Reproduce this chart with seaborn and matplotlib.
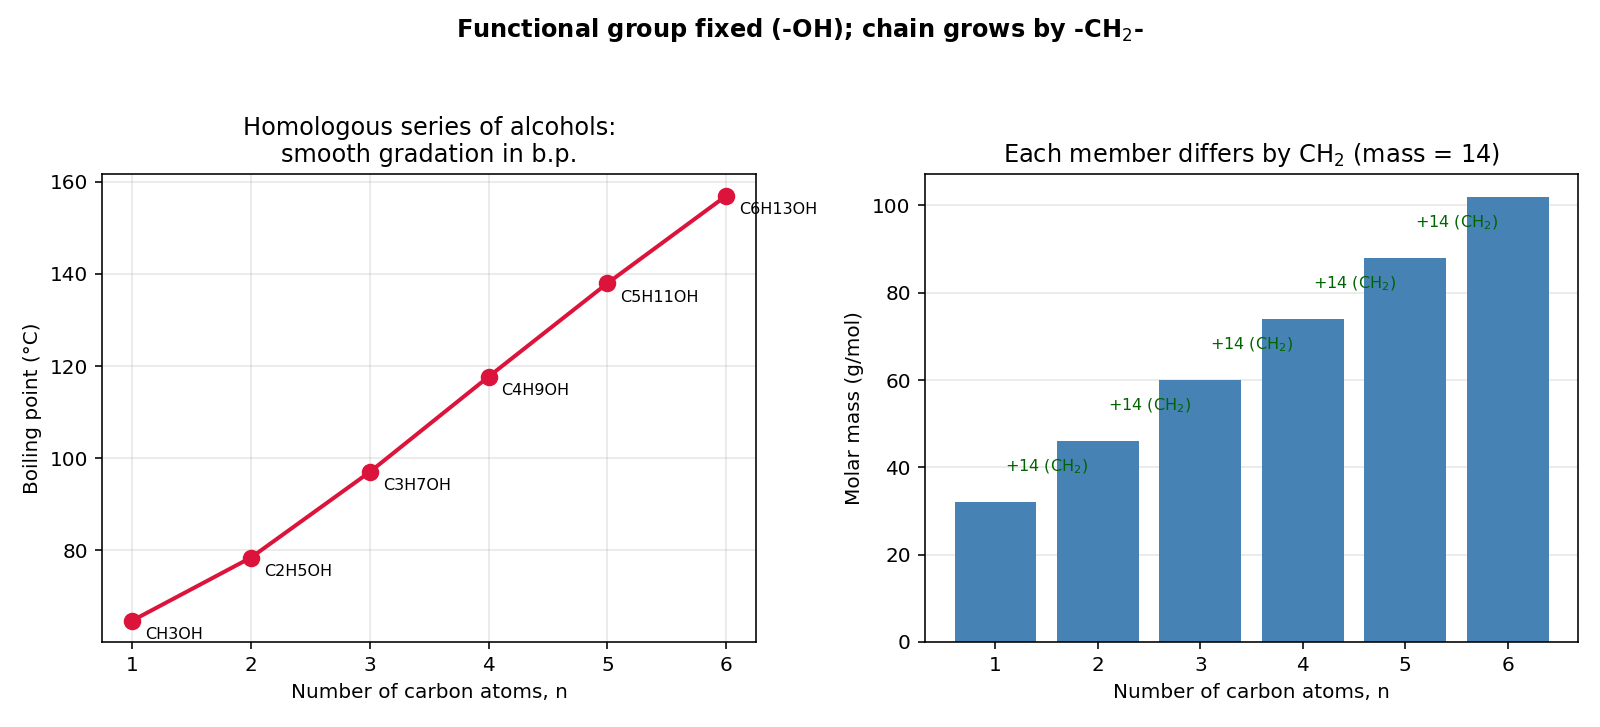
import numpy as np
import pandas as pd
import matplotlib
matplotlib.use("Agg")
import matplotlib.pyplot as plt
import seaborn as sns

# data
carbons = [1, 2, 3, 4, 5, 6]
names = ["CH3OH", "C2H5OH", "C3H7OH", "C4H9OH", "C5H11OH", "C6H13OH"]
boiling_points = [64.7, 78.4, 97.0, 117.7, 138.0, 157.0]
molar_masses = [32, 46, 60, 74, 88, 102]

df = pd.DataFrame({"n": carbons, "name": names, "bp": boiling_points, "mass": molar_masses})

DPI = 144
fig = plt.figure(figsize=(1600 / DPI, 727 / DPI), dpi=DPI)
ax1 = fig.add_axes([0.064, 0.117, 0.4085, 0.643])
ax2 = fig.add_axes([0.578, 0.117, 0.4085, 0.643])

# left: boiling point line
sns.lineplot(data=df, x="n", y="bp", ax=ax1, color="crimson", linewidth=2,
             marker="o", markersize=8, markeredgecolor="crimson")
for _, row in df.iterrows():
    ax1.annotate(row["name"], (row["n"], row["bp"]), xytext=(6.5, -7),
                 textcoords="offset points", fontsize=8, va="center")
ax1.set_xlabel("Number of carbon atoms, n")
ax1.set_ylabel("Boiling point (°C)")
ax1.set_title("Homologous series of alcohols:\nsmooth gradation in b.p.")
ax1.set_xticks(carbons)
ax1.grid(True, alpha=0.3)

# right: molar mass bars
sns.barplot(data=df, x="n", y="mass", ax=ax2, native_scale=True, color="steelblue",
            saturation=1, width=0.8, linewidth=0)
for i in range(len(carbons) - 1):
    ax2.text(carbons[i] + 0.5, (molar_masses[i] + molar_masses[i + 1]) / 2,
             "+14 (CH$_2$)", ha="center", fontsize=8, color="darkgreen")
ax2.set_xlabel("Number of carbon atoms, n")
ax2.set_ylabel("Molar mass (g/mol)")
ax2.set_title("Each member differs by CH$_2$ (mass = 14)")
ax2.set_xticks(carbons)
ax2.set_xlim(0.31, 6.69)
ax2.grid(True, axis="y", alpha=0.3)
ax2.set_axisbelow(True)

fig.suptitle("Functional group fixed (-OH); chain grows by -CH$_2$-", fontweight="bold", y=0.978)

fig.savefig("out.png", dpi=DPI)
